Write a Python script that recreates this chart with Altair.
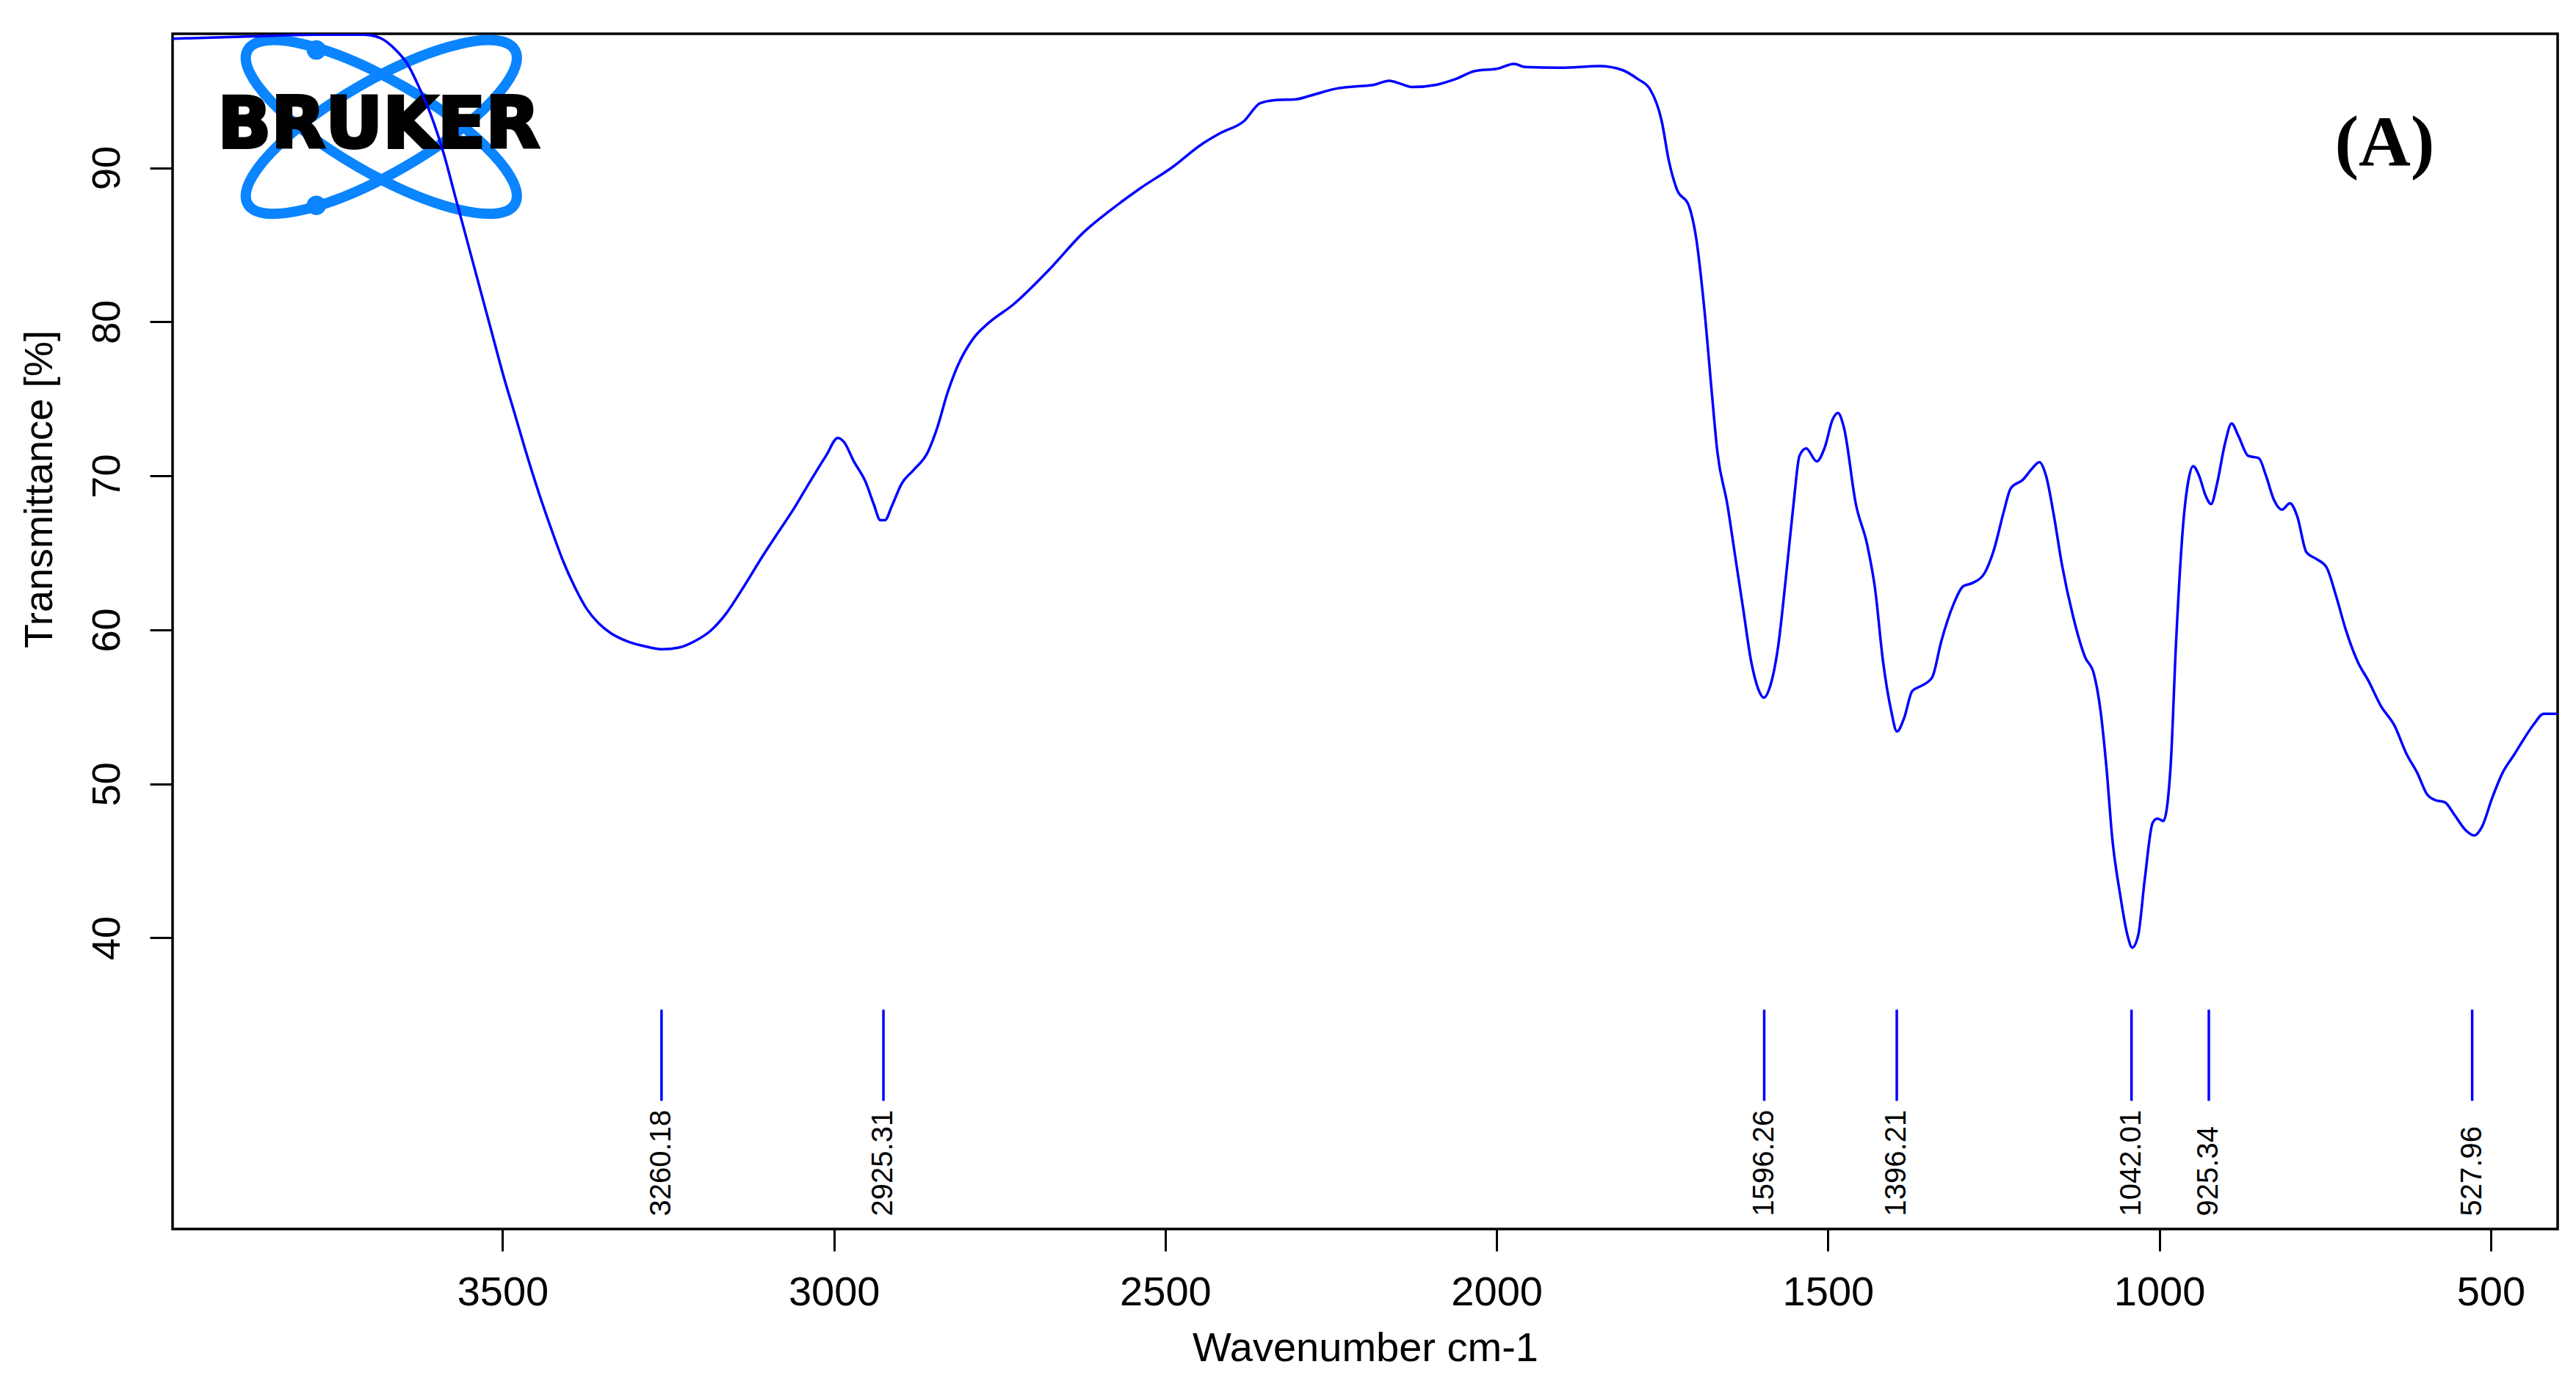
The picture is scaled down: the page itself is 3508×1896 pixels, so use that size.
import altair as alt
import pandas as pd

# ---- spectrum values ----
wavenumber = [3998, 3877, 3781, 3709, 3685, 3661, 3643, 3625, 3607, 3589, 3571, 3553, 3535, 3517,
              3499, 3481, 3463, 3445, 3427, 3409, 3391, 3373, 3355, 3337, 3313, 3282, 3258, 3234,
              3210, 3186, 3162, 3138, 3108, 3084, 3060, 3036, 3012, 2994, 2985, 2970, 2952, 2940,
              2930, 2923, 2913, 2898, 2880, 2858, 2844, 2829, 2814, 2790, 2766, 2730, 2676, 2622,
              2585, 2537, 2489, 2447, 2417, 2381, 2357, 2333, 2303, 2279, 2243, 2209, 2185, 2162,
              2144, 2127, 2091, 2062, 2033, 1998, 1974, 1957, 1904, 1845, 1810, 1787, 1769, 1751,
              1740, 1728, 1710, 1699, 1687, 1675, 1667, 1652, 1640, 1628, 1616, 1605, 1597, 1587,
              1575, 1564, 1552, 1543, 1533, 1517, 1505, 1493, 1485, 1476, 1458, 1441, 1429, 1417,
              1405, 1396, 1385, 1373, 1358, 1343, 1329, 1311, 1296, 1282, 1265, 1249, 1235, 1224,
              1206, 1193, 1181, 1171, 1159, 1147, 1130, 1112, 1099, 1089, 1080, 1071, 1059, 1048,
              1041, 1032, 1022, 1010, 1003, 994, 983, 975, 963, 956, 949, 940, 930, 922, 913, 901,
              891, 881, 866, 850, 839, 827, 815, 803, 792, 778, 763, 748, 733, 719, 701, 684, 666,
              645, 627, 611, 596, 584, 569, 555, 537, 525, 513, 498, 482, 464, 449, 435, 420, 399]
transmittance = [98.38, 98.53, 98.64, 98.64, 98.43, 97.64, 96.70, 95.13, 93.30, 90.94, 88.06, 85.18,
                 82.30, 79.42, 76.54, 73.93, 71.30, 68.85, 66.60, 64.50, 62.77, 61.36, 60.42, 59.79,
                 59.27, 58.90, 58.74, 58.85, 59.27, 59.95, 61.10, 62.67, 64.76, 66.34, 67.90, 69.63,
                 71.30, 72.46, 72.20, 70.94, 69.58, 68.17, 67.12, 67.12, 68.00, 69.48, 70.37, 71.57,
                 73.14, 75.34, 77.07, 78.90, 79.95, 81.10, 83.35, 85.86, 87.17, 88.69, 90.05, 91.47,
                 92.25, 93.04, 94.19, 94.40, 94.45, 94.71, 95.13, 95.29, 95.39, 95.65, 95.44, 95.24,
                 95.39, 95.76, 96.28, 96.44, 96.75, 96.54, 96.49, 96.60, 96.34, 95.76, 95.13, 93.04,
                 90.42, 88.59, 87.54, 85.45, 81.00, 75.24, 71.57, 68.17, 64.76, 61.36, 57.96, 56.13,
                 55.60, 56.39, 59.00, 63.20, 68.17, 71.30, 71.78, 70.94, 71.83, 73.66, 74.08, 73.14,
                 68.17, 65.55, 62.67, 57.96, 54.82, 53.40, 54.29, 56.02, 56.39, 56.90, 59.27, 61.62,
                 62.83, 63.04, 63.60, 65.29, 67.64, 69.21, 69.74, 70.42, 70.89, 70.00, 67.38, 64.24,
                 60.84, 58.22, 57.17, 54.82, 51.15, 46.44, 42.77, 40.16, 39.37, 40.16, 43.82, 47.49,
                 47.75, 47.59, 51.15, 59.00, 67.38, 69.74, 70.63, 70.00, 68.69, 68.17, 69.48, 72.09,
                 73.40, 72.62, 71.30, 71.15, 70.00, 68.43, 67.80, 68.22, 67.38, 65.03, 64.60, 64.08,
                 62.15, 60.05, 57.96, 56.65, 55.08, 53.77, 51.94, 50.73, 49.32, 48.95, 48.80, 48.01,
                 46.96, 46.65, 47.23, 49.06, 50.73, 51.94, 52.98, 53.87, 54.55, 54.55]

peak_positions = [3260.18, 2925.31, 1596.26, 1396.21, 1042.01, 925.34, 527.96]
peak_labels = ["3260.18", "2925.31", "1596.26", "1396.21", "1042.01", "925.34", "527.96"]

x_ticks = [3500, 3000, 2500, 2000, 1500, 1000, 500]
y_ticks = [40, 50, 60, 70, 80, 90]

spec = pd.DataFrame({"wn": wavenumber, "t": transmittance, "i": list(range(len(wavenumber)))})
peaks = pd.DataFrame({"wn": peak_positions, "label": peak_labels})
one = pd.DataFrame({"k": [0]})

FONT = "Liberation Sans"
BLUE = "#0000ff"
LOGO_BLUE = "#0a84ff"

xs = alt.Scale(domain=[399, 3998], reverse=True, nice=False, zero=False)
ys = alt.Scale(domain=[21.1, 98.7], nice=False, zero=False)

x_axis = alt.Axis(values=x_ticks, format="d", title="Wavenumber cm-1", grid=False, domain=False,
                  labelFont=FONT, labelFontSize=56, labelColor="black", labelPadding=29,
                  labelFlush=False, tickColor="black", tickWidth=3, tickSize=30,
                  titleFont=FONT, titleFontSize=56, titleFontWeight="normal", titleColor="black",
                  titleY=179, titleBaseline="alphabetic")
y_axis = alt.Axis(values=y_ticks, title="Transmittance [%]", grid=False, domain=False,
                  labelFont=FONT, labelFontSize=54, labelColor="black", labelAngle=270,
                  labelAlign="center", labelBaseline="middle", labelPadding=58,
                  tickColor="black", tickWidth=3, tickSize=31,
                  titleFont=FONT, titleFontSize=54, titleFontWeight="normal", titleColor="black",
                  titleAngle=270, titleX=-181, titleY=620, titleAlign="center",
                  titleBaseline="middle")

ellipse_path = "M -1 0 A 1 0.3 0 1 1 1 0 A 1 0.3 0 1 1 -1 0 Z"

logo_ell1 = alt.Chart(one).mark_point(shape=ellipse_path, filled=False, size=176400,
                                      strokeWidth=14, color=LOGO_BLUE, opacity=1, angle=30).encode(
    x=alt.datum(3683, scale=xs), y=alt.datum(92.65, scale=ys))
logo_ell2 = alt.Chart(one).mark_point(shape=ellipse_path, filled=False, size=176400,
                                      strokeWidth=14, color=LOGO_BLUE, opacity=1, angle=150).encode(
    x=alt.datum(3683, scale=xs), y=alt.datum(92.65, scale=ys))
logo_dot1 = alt.Chart(one).mark_circle(size=700, color=LOGO_BLUE, opacity=1).encode(
    x=alt.datum(3781, scale=xs), y=alt.datum(97.65, scale=ys))
logo_dot2 = alt.Chart(one).mark_circle(size=700, color=LOGO_BLUE, opacity=1).encode(
    x=alt.datum(3781, scale=xs), y=alt.datum(87.56, scale=ys))
logo_text = alt.Chart(one).mark_text(text="BRUKER", font="DejaVu Sans", fontWeight="bold",
                                     fontSize=96, color="black", stroke="black", strokeWidth=4,
                                     align="center", baseline="alphabetic").encode(
    x=alt.datum(3687, scale=xs), y=alt.datum(91.3, scale=ys))

line = alt.Chart(spec).mark_line(color=BLUE, strokeWidth=3.5, interpolate="monotone",
                                 clip=True).encode(
    x=alt.X("wn:Q", scale=xs, axis=x_axis),
    y=alt.Y("t:Q", scale=ys, axis=y_axis),
    order=alt.Order("i:Q"),
)

rules = alt.Chart(peaks).mark_rule(color=BLUE, strokeWidth=3.5).encode(
    x=alt.X("wn:Q", scale=xs),
    y=alt.datum(35.34, scale=ys),
    y2=alt.datum(29.42),
)

labels = alt.Chart(peaks).mark_text(angle=270, align="left", baseline="middle", font=FONT,
                                    fontSize=40, color="black").encode(
    x=alt.X("wn:Q", scale=xs),
    y=alt.datum(21.94, scale=ys),
    text="label:N",
)

panel = alt.Chart(one).mark_text(text="(A)", font="Liberation Serif", fontWeight="bold",
                                 fontSize=98, color="black", align="center",
                                 baseline="alphabetic").encode(
    x=alt.datum(660, scale=xs), y=alt.datum(90.16, scale=ys))

chart = alt.layer(logo_ell1, logo_ell2, logo_dot1, logo_dot2, logo_text, line, rules, labels,
                  panel).properties(
    width=3248, height=1628,
    autosize=alt.AutoSizeParams(type="none"),
    padding={"left": 227, "top": 38, "right": 15, "bottom": 200},
    background="white",
).configure_view(stroke="black", strokeWidth=3.5)

chart.save("out.html", embed_options={"renderer": "svg", "actions": False})
